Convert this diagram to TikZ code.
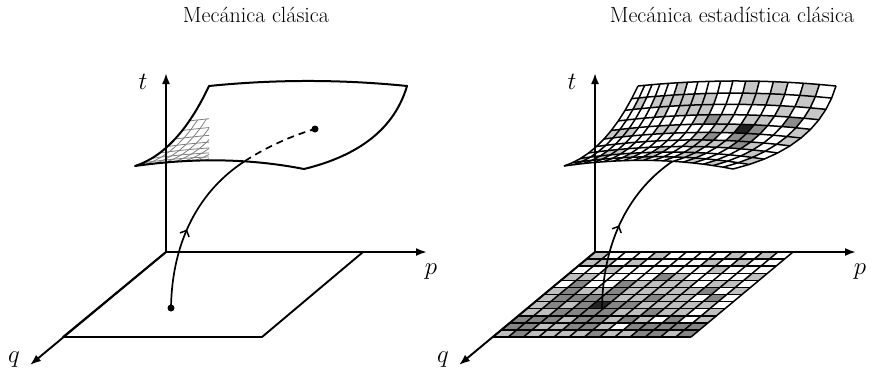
\documentclass[tikz,border=0pt]{standalone}
\usepackage{tikz}
\usetikzlibrary{arrows.meta,decorations.markings,calc}

% cubic Bezier in one coordinate: t, p0, p1, p2, p3
\pgfmathdeclarefunction{bez}{5}{%
  \begingroup
  \pgfmathparse{(1-#1)^3*#2+3*#1*(1-#1)^2*#3+3*#1^2*(1-#1)*#4+#1^3*#5}%
  \pgfmathsmuggle\pgfmathresult
  \endgroup}

% point of the sheet (Coons patch), s and v in [0,1] -> \hx, \hy
\newcommand\hojapt[2]{%
  \pgfmathsetmacro\hg{0.55*#1+0.45*#1*#1}%
  \pgfmathsetmacro\hx{(1-#2)*bez(#1,135,191,248,304)+#2*bez(\hg,209,275,341,407)
    +(1-#1)*bez(#2,135,163.7,188.3,209)+#1*bez(#2,304,360.3,394.7,407)
    -((1-#1)*(1-#2)*135+#1*(1-#2)*304+(1-#1)*#2*209+#1*#2*407)}%
  \pgfmathsetmacro\hy{(1-#2)*bez(#1,166,158,158,169)+#2*bez(\hg,86,79.3,79.3,86)
    +(1-#1)*bez(#2,166,156.7,130,86)+#1*bez(#2,169,155.3,127.7,86)
    -((1-#1)*(1-#2)*166+#1*(1-#2)*169+(1-#1)*#2*86+#1*#2*86)}%
}

\newcommand\contorno{(135,166) .. controls (191,158) and (248,158) .. (304,169)
  .. controls (360.3,155.3) and (394.7,127.7) .. (407,86)
  .. controls (341,79.3) and (275,79.3) .. (209,86)
  .. controls (188.3,130) and (163.7,156.7) .. cycle}

\tikzset{
  eje/.style={-{Latex[length=11pt,width=8pt]}, line width=1.9pt},
  plano/.style={line width=1.9pt, line join=round},
  hoja/.style={line width=2pt, line join=round},
  malla/.style={line width=1.5pt, line join=round},
  mallafina/.style={line width=0.8pt, draw=black!50},
  trayecto/.style={line width=1.7pt, postaction={decorate},
    decoration={markings, mark=at position #1 with
      {\arrow{Straight Barb[length=5pt,width=10pt,line width=1.5pt]}}}},
  trayecto/.default=0.5,
  punto/.style={circle, fill=black, inner sep=0pt, minimum size=7pt},
  rotulo/.style={font=\fontsize{24.88}{28}\selectfont, inner sep=0pt},
  titulo/.style={font=\fontsize{22}{26}\selectfont, inner sep=0pt},
}

\begin{document}
\begin{tikzpicture}[x=1pt, y=-1pt]
  \useasboundingbox (0,0) rectangle (874,376);

  % Titles
  \node[titulo] (tit1) at (256,15) {Mecánica clásica};
  \node[titulo] (tit2) at (732,15) {Mecánica estadística clásica};

  % Grid points of the sheet, both panels
  \foreach \i in {0,...,17}{
    \foreach \j in {0,...,10}{
      \pgfmathsetmacro\hs{\i/17}
      \pgfmathsetmacro\hv{\j/10}
      \hojapt{\hs}{\hv}
      \coordinate (hL-\i-\j) at (\hx,\hy);
      \coordinate (hR-\i-\j) at (\hx+429,\hy);
    }
  }

  % Left plane
  \draw[plano] (166,252) -- (363,252) -- (262,337) -- (63,337) -- cycle;

  % Right plane: shaded cells
  \pgfmathsetseed{11}
  \begin{scope}[shift={(595,252)}, x={(15.23pt,0pt)}, y={(-8.5pt,-7.0833pt)}]
    \foreach \i in {0,...,12}{
      \foreach \j in {0,...,11}{
        \pgfmathsetmacro\w{0.45*exp(-((\i-4)^2/14+(\j-7)^2/10))+0.025*\j+0.6*rnd}
        \pgfmathtruncatemacro\tono{\w<0.38?0:(\w<0.68?25:48)}
        \pgfmathtruncatemacro\tono{(\i==4 && \j==7) ? 85 : \tono}
        \fill[black!\tono] (\i,\j) -- ++(1,0) -- ++(0,1) -- ++(-1,0) -- cycle;
      }
    }
    \foreach \i in {0,...,13} \draw[malla] (\i,0) -- (\i,12);
    \foreach \j in {0,...,12} \draw[malla] (0,\j) -- (13,\j);
  \end{scope}

  % Trajectories from the planes
  \node[punto] (iniL) at (171,308) {};
  \coordinate (bordeL) at (245,161);
  \draw[trayecto=0.47] (iniL.center) .. controls (172,240) and (200,190) .. (bordeL);
  \coordinate (iniR) at (602,308);
  \coordinate (bordeR) at (673,161);
  \draw[trayecto=0.5] (iniR) .. controls (603,240) and (630,190) .. (bordeR);

  % Left sheet with a fading mesh
  \fill[white] \contorno;
  \begin{scope}
    \clip \contorno;
    \clip (120,118) rectangle (209,170);
    \foreach \i in {1,...,8}
      \draw[mallafina] (hL-\i-0) \foreach \j in {1,...,7}{ -- (hL-\i-\j)};
    \foreach \j in {1,...,7}
      \draw[mallafina] (hL-0-\j) \foreach \i in {1,...,8}{ -- (hL-\i-\j)};
  \end{scope}
  \draw[hoja] \contorno;

  % Dashed part and end point
  \node[punto] (finL) at (315,129) {};
  \draw[line width=1.7pt, dash pattern=on 7pt off 5pt]
    (bordeL) .. controls (268,146) and (294,135) .. (finL.center);

  % Right sheet: shaded cells
  \pgfmathsetseed{5}
  \foreach \i in {0,...,16}{
    \foreach \j in {0,...,9}{
      \pgfmathtruncatemacro\ii{\i+1}
      \pgfmathtruncatemacro\jj{\j+1}
      \pgfmathsetmacro\w{0.35*exp(-((\i-12)^2/8+(\j-5)^2/4))+0.6*rnd}
      \pgfmathtruncatemacro\tono{\w<0.42?0:(\w<0.62?22:45)}
      \pgfmathtruncatemacro\tono{(\i==12 && \j==5) ? 88 : \tono}
      \fill[black!\tono] (hR-\i-\j) -- (hR-\ii-\j) -- (hR-\ii-\jj) -- (hR-\i-\jj) -- cycle;
    }
  }
  \foreach \i in {0,...,17}
    \draw[malla] (hR-\i-0) \foreach \j in {1,...,10}{ -- (hR-\i-\j)};
  \foreach \j in {0,...,10}
    \draw[malla] (hR-0-\j) \foreach \i in {1,...,17}{ -- (hR-\i-\j)};

  % Axes
  \foreach \pan/\dx in {L/0,R/429}{
    \begin{scope}[xshift=\dx pt, name prefix=\pan-]
      \coordinate (O) at (166,252);
      \coordinate (T) at (166,73);
      \coordinate (P) at (427,252);
      \coordinate (Q) at (30,365);
      \draw[eje] (O) -- (T);
      \draw[eje] (O) -- (P);
      \draw[eje] (O) -- (Q);
      \node[rotulo] (lt) at (143,82) {$t$};
      \node[rotulo] (lp) at (431,272) {$p$};
      \node[rotulo] (lq) at (14,360) {$q$};
    \end{scope}
  }
\end{tikzpicture}
\end{document}
